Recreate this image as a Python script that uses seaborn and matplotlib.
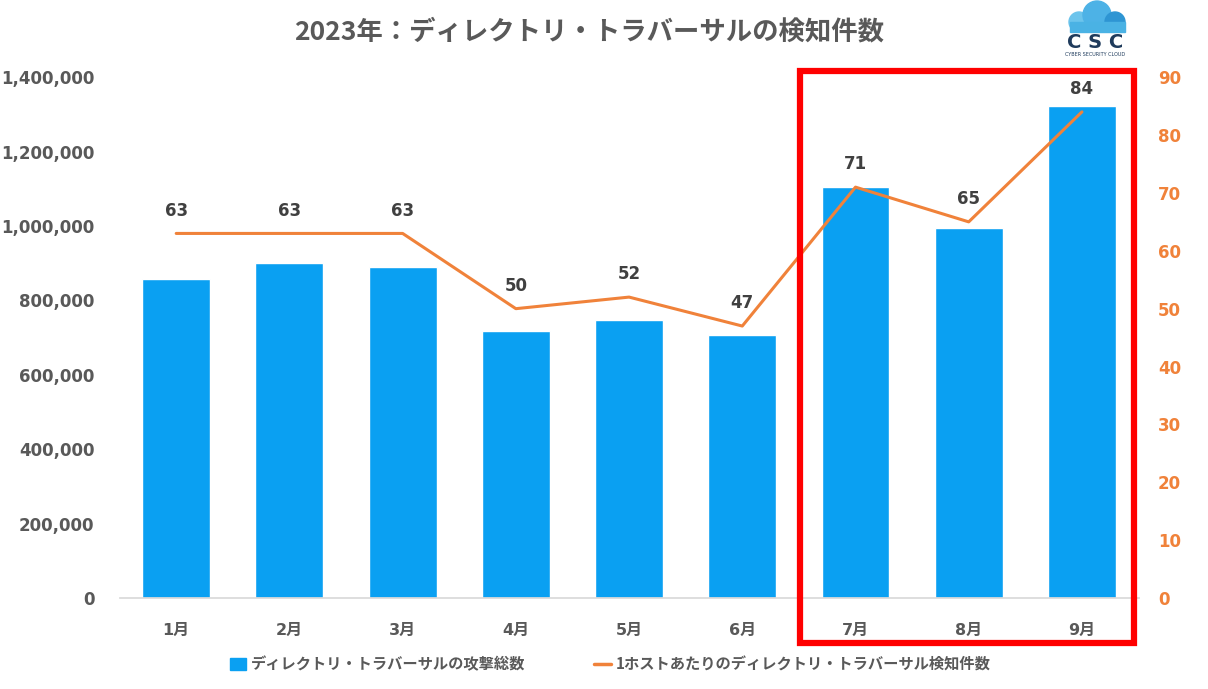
import pandas as pd
import seaborn as sns
import matplotlib.pyplot as plt
import matplotlib.patches as mpatches
from matplotlib.lines import Line2D
from matplotlib.ticker import FuncFormatter, MultipleLocator
import numpy as np

# Data
months = ['1月', '2月', '3月', '4月', '5月', '6月', '7月', '8月', '9月']
total_attacks = [857000, 900000, 889000, 718000, 747000, 707000, 1105000, 995000, 1322000]
per_host = [63, 63, 63, 50, 52, 47, 71, 65, 84]

bar_label = 'ディレクトリ・トラバーサルの攻撃総数'
line_label = '1ホストあたりのディレクトリ・トラバーサル検知件数'
title = '2023年：ディレクトリ・トラバーサルの検知件数'

df = pd.DataFrame({'month': months, 'total': total_attacks, 'per_host': per_host})

sns.set_theme(style='white')
plt.rcParams['font.family'] = ['DejaVu Sans', 'Noto Sans CJK JP']

bar_color = '#0AA0F2'
line_color = '#F0823A'
gray = '#595959'

fig = plt.figure(figsize=(12.08, 6.89), dpi=100)
ax = fig.add_axes([0.099, 0.132, 0.8435, 0.756])

# Bars (left axis)
sns.barplot(data=df, x='month', y='total', color=bar_color, width=0.6,
            saturation=1, ax=ax)
ax.set_ylim(0, 1400000)
ax.set_xlim(-0.5, len(months) - 0.5)
ax.yaxis.set_major_locator(MultipleLocator(200000))
ax.yaxis.set_major_formatter(FuncFormatter(lambda v, p: f'{int(v):,}'))
ax.set_xlabel('')
ax.set_ylabel('')
ax.tick_params(axis='y', labelsize=12, labelcolor=gray, length=0, pad=18)
ax.tick_params(axis='x', labelsize=11.5, labelcolor=gray, length=0, pad=18)
for lab in ax.get_yticklabels() + ax.get_xticklabels():
    lab.set_fontweight('bold')
for s in ['top', 'right', 'left']:
    ax.spines[s].set_visible(False)
ax.spines['bottom'].set_color('#D9D9D9')

# Line (right axis)
ax2 = ax.twinx()
sns.lineplot(x=df.index, y=df['per_host'], color=line_color, linewidth=2.2, ax=ax2)
ax2.set_ylim(0, 90)
ax2.yaxis.set_major_locator(MultipleLocator(10))
ax2.set_ylabel('')
ax2.tick_params(axis='y', labelsize=12, labelcolor=line_color, length=0, pad=14)
for lab in ax2.get_yticklabels():
    lab.set_fontweight('bold')
for s in ['top', 'right', 'left', 'bottom']:
    ax2.spines[s].set_visible(False)

for i, v in enumerate(per_host):
    ax2.annotate(str(v), (i, v), xytext=(0, 10), textcoords='offset points',
                 ha='center', va='bottom', fontsize=12, fontweight='bold',
                 color='#404040')

# Title
fig.text(0.488, 0.953, title, ha='center', va='center', fontsize=19,
         fontweight='bold', color=gray, family=['Noto Sans CJK JP', 'DejaVu Sans'])

# Highlight box around Jul-Sep
fig.patches.append(mpatches.Rectangle((800 / 1208, 1 - 643 / 689), 334 / 1208, 572 / 689,
                                      transform=fig.transFigure, fill=False,
                                      edgecolor='#FF0000', linewidth=4.5))

# Legend
handles = [mpatches.Patch(color=bar_color, label=bar_label),
           Line2D([0], [0], color=line_color, linewidth=2.5, label=line_label)]
leg = fig.legend(handles=handles, loc='center', bbox_to_anchor=(0.505, 0.036), ncol=2,
                 frameon=False, columnspacing=4.5, handlelength=1.1,
                 handleheight=0.8, handletextpad=0.3,
                 prop={'family': ['Noto Sans CJK JP', 'DejaVu Sans'],
                       'size': 11, 'weight': 'bold'})
for t in leg.get_texts():
    t.set_color(gray)

# Simple logo
for cx, cy, r, c in [(1079, 22, 10, '#6CC4EC'), (1097, 15, 14, '#4DB2E6'),
                     (1115, 22, 10, '#2E95D3')]:
    fig.patches.append(mpatches.Ellipse((cx / 1208, 1 - cy / 689), 2 * r / 1208, 2 * r / 689,
                                        transform=fig.transFigure, color=c))
fig.patches.append(mpatches.Rectangle((1070 / 1208, 1 - 32 / 689), 55 / 1208, 10 / 689,
                                      transform=fig.transFigure, color='#4AB2E4'))
fig.text(1095 / 1208, 1 - 42 / 689, 'C S C', ha='center', va='center', fontsize=14,
         fontweight='bold', color='#1F3B5C', family='DejaVu Sans')
fig.text(1095 / 1208, 1 - 54 / 689, 'CYBER SECURITY CLOUD', ha='center', va='center',
         fontsize=3.5, color='#1F3B5C')

fig.savefig('out.png', dpi=100)
